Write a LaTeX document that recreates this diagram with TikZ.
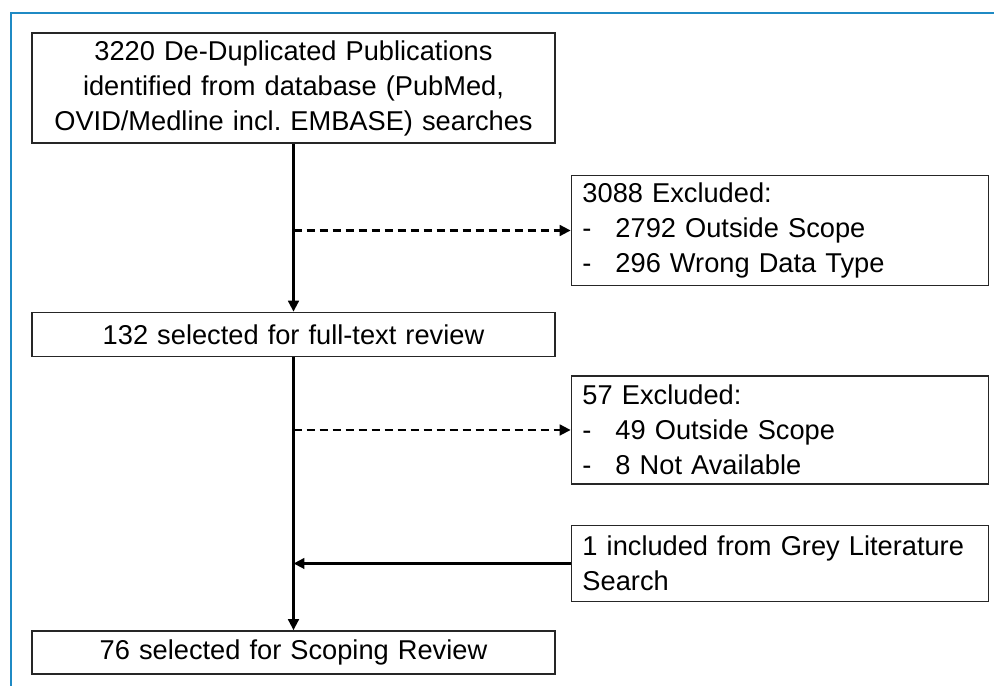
\documentclass[tikz,border=0pt]{standalone}
\usepackage{fontspec}
\setmainfont{Liberation Sans}
\frenchspacing
\usepackage{tikz}
\usetikzlibrary{positioning,arrows.meta}
\definecolor{framblue}{RGB}{31,138,196}
\tikzstyle{mainbox} = [rectangle, draw=black!85, line width=0.85pt, text width=10.02cm, inner xsep=0.22cm, align=center, font=\fontsize{15.5}{19.9}\selectfont]
\tikzstyle{sidebox} = [rectangle, draw=black!85, line width=0.85pt, text width=7.9cm, inner xsep=0.22cm, align=left, font=\fontsize{15.5}{19.9}\selectfont]
\tikzstyle{arrow} = [line width=1.6pt, -{Triangle[length=2.2mm,width=2.1mm]}]
\tikzstyle{dasharrow} = [arrow, dash pattern=on 4.6pt off 2.8pt]
\newcommand{\exitem}[1]{\makebox[0.66cm][l]{-}#1}

\begin{document}
\begin{tikzpicture}

		\useasboundingbox (-5.87,1.76) rectangle (14.01,-11.96);
		% frame
		\draw[framblue, line width=1.3pt] (-5.65,-11.96) -- (-5.65,1.50) -- (14.01,1.50);

		% Nodes
		\node (start) [mainbox, minimum height=2.2cm] {3220 De-Duplicated Publications\\ identified from database (PubMed,\\ OVID/Medline incl. EMBASE) searches};

		\node (excl1) [sidebox, minimum height=2.2cm, below right=0.62cm and 0.3cm of start] {3088 Excluded:\\ \exitem{2792 Outside Scope}\\ \exitem{296 Wrong Data Type}};

		\node (fulltext) [mainbox, minimum height=0.88cm, below=3.36cm of start] {132 selected for full-text review};

		\node (excl2) [sidebox, minimum height=2.16cm, below=1.78cm of excl1] {57 Excluded:\\ \exitem{49 Outside Scope}\\ \exitem{8 Not Available}};
		\node (grey) [sidebox, minimum height=1.52cm, below=0.8cm of excl2] {1 included from Grey Literature\\ Search};

		\node (scoping) [mainbox, minimum height=0.86cm, below=5.46cm of fulltext] {76 selected for Scoping Review};

		\coordinate (split1) at (start.south |- excl1.west);
		\coordinate (split2) at (start.south |- excl2.west);
		\coordinate (merge) at (start.south |- grey.west);

		% Arrows
		\draw [arrow] (start) -- (fulltext);
		\draw [dasharrow] (split1) -- (excl1.west);

		\draw [arrow] (fulltext) -- (scoping);
		\draw [dasharrow] (split2) -- (excl2.west);
		\draw [arrow] (grey.west) -- (merge);
	\end{tikzpicture}
\end{document}
